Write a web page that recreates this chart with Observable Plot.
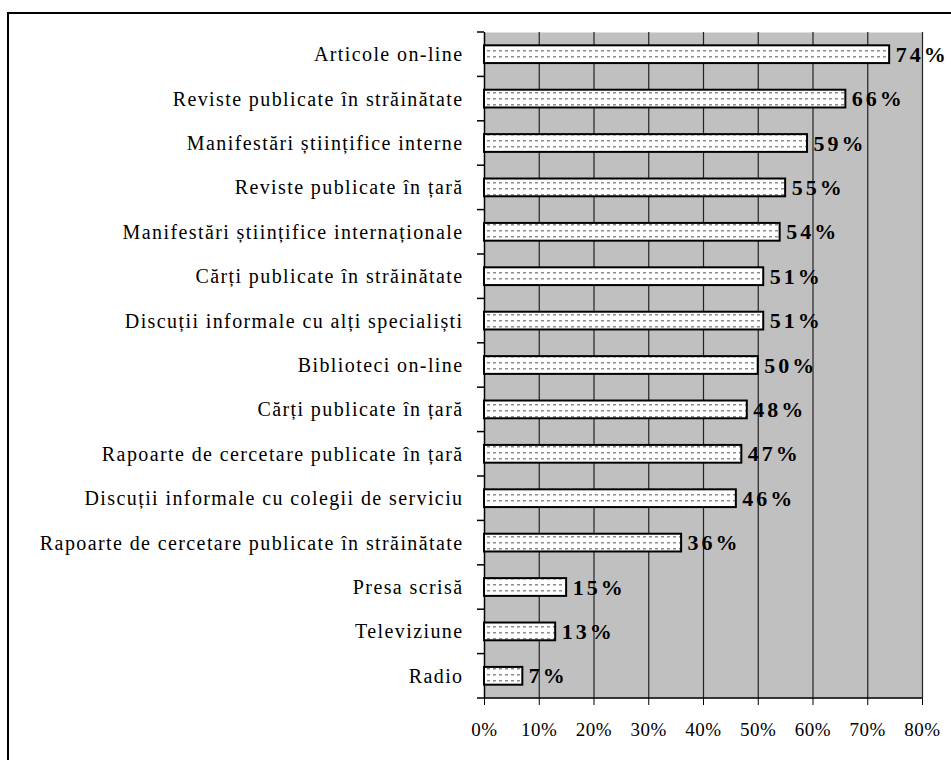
<!DOCTYPE html>
<html><head><meta charset="utf-8">
<script src="https://cdn.jsdelivr.net/npm/d3@7"></script>
<script src="https://cdn.jsdelivr.net/npm/@observablehq/plot@0.6"></script>
<style>
body{margin:0;background:#fff;}
#wrap{position:relative;width:951px;height:760px;overflow:hidden;background:#fff;}
#frame{position:absolute;left:7px;top:12px;width:1000px;height:800px;border-left:2px solid #000;border-top:2px solid #000;}
#chart{position:absolute;left:0;top:0;}
#chart svg, #chart svg text{font-family:"Liberation Serif","Times New Roman",Times,serif !important;}
g[aria-label="y-axis tick label"] text{letter-spacing:1.4px;}
g[aria-label="x-axis tick label"] text{letter-spacing:0.5px;}
g[aria-label="text"] text{letter-spacing:3px;}
</style></head>
<body><div id="wrap"><div id="frame"></div><div id="chart"></div></div>
<script>
const categories = [
  "Articole on-line",
  "Reviste publicate în străinătate",
  "Manifestări științifice interne",
  "Reviste publicate în țară",
  "Manifestări științifice internaționale",
  "Cărți publicate în străinătate",
  "Discuții informale cu alți specialiști",
  "Biblioteci on-line",
  "Cărți publicate în țară",
  "Rapoarte de cercetare publicate în țară",
  "Discuții informale cu colegii de serviciu",
  "Rapoarte de cercetare publicate în străinătate",
  "Presa scrisă",
  "Televiziune",
  "Radio"
];
const values = [74, 66, 59, 55, 54, 51, 51, 50, 48, 47, 46, 36, 15, 13, 7];
const xTicks = [0, 10, 20, 30, 40, 50, 60, 70, 80];

const data = categories.map((c, i) => ({category: c, value: values[i]}));
const serif = "Liberation Serif, Times New Roman, Times, serif";

const chart = Plot.plot({
  width: 951,
  height: 760,
  marginLeft: 484,
  marginRight: 29,
  marginTop: 32,
  marginBottom: 62,
  style: {fontFamily: serif, background: "transparent", color: "#000"},
  x: {domain: [0, 80]},
  y: {domain: categories, paddingInner: 0.6, paddingOuter: 0.3, round: false},
  marks: [
    Plot.frame({fill: "#c0c0c0", stroke: null}),
    Plot.gridX(xTicks.filter(t => t > 0), {stroke: "#222", strokeOpacity: 1, strokeWidth: 1.2}),
    Plot.ruleX([0], {stroke: "#000", strokeWidth: 1.5}),
    Plot.barX(data, {x: "value", y: "category", fill: "url(#dashpat)", stroke: "#000", strokeWidth: 2}),
    Plot.text(data, {x: "value", y: "category", text: d => d.value + "%", textAnchor: "start", dx: 6,
      fontSize: 22, fontWeight: "bold", fill: "#000"}),
    Plot.axisX({ticks: xTicks, tickFormat: d => d + "%", tickSize: 7, tickPadding: 17, fontSize: 19, label: null, stroke: "#000"}),
    Plot.axisY({tickSize: 0, tickPadding: 21, fontSize: 20, label: null})
  ]
});

// pattern for bars
const svg = d3.select(chart);
const defs = svg.insert("defs", ":first-child");
const pat = defs.append("pattern").attr("id", "dashpat").attr("patternUnits", "userSpaceOnUse")
  .attr("width", 6).attr("height", 6);
pat.append("rect").attr("width", 6).attr("height", 6).attr("fill", "#fff");
pat.append("rect").attr("x", 1).attr("y", 2).attr("width", 3).attr("height", 1.5).attr("fill", "#8c8c8c");

// category boundary ticks and bottom axis line, positioned via Plot's scales
const ys = chart.scale("y");
const xs = chart.scale("x");
const bw = ys.bandwidth;
const step = ys.apply(categories[1]) - ys.apply(categories[0]);
const half = (step - bw) / 2;
const bounds = categories.map(c => ys.apply(c) - half);
bounds.push(ys.apply(categories[categories.length - 1]) + bw + half);
const x0 = xs.apply(0);
const g = svg.append("g").attr("stroke", "#000").attr("stroke-width", 1.5);
bounds.forEach((b, i) => {
  g.append("line").attr("x1", x0 - 7).attr("x2", i === bounds.length - 1 ? xs.apply(80) : x0)
    .attr("y1", b).attr("y2", b);
});

document.getElementById("chart").appendChild(chart);
</script>
</body></html>
